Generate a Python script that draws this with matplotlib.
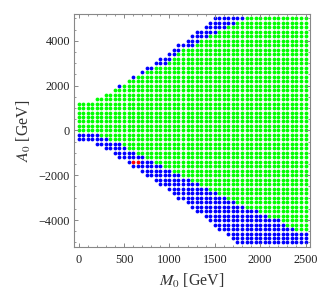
import numpy as np
import matplotlib
matplotlib.use("Agg")
import matplotlib.pyplot as plt
from matplotlib.ticker import MultipleLocator

plt.rcParams['mathtext.fontset'] = 'stix'
plt.rcParams['font.family'] = ['Liberation Serif', 'DejaVu Serif']

# scan grid: M0 columns every 50 GeV, A0 rows every 200 GeV
m0_cols = np.arange(0, 2501, 50)

# highest A0 point in each column
top_a0 = [1200, 1200, 1200, 1200, 1400, 1400, 1600, 1600, 1800, 2000,
          2000, 2200, 2400, 2400, 2600, 2800, 2800, 3000, 3200, 3200,
          3400, 3600, 3800, 3800, 4000, 4200, 4400, 4400, 4600, 4800,
          5000, 5000, 5000, 5000, 5000, 5000, 5000, 5000, 5000, 5000,
          5000, 5000, 5000, 5000, 5000, 5000, 5000, 5000, 5000, 5000, 5000]

# lowest A0 point in each column
bottom_a0 = [-400, -400, -400, -400, -600, -600, -800, -800, -1000, -1200,
             -1200, -1400, -1600, -1600, -1800, -2000, -2000, -2200, -2400, -2400,
             -2600, -2800, -3000, -3000, -3200, -3400, -3600, -3600, -3800, -4000,
             -4200, -4400, -4400, -4600, -4800, -5000, -5000, -5000, -5000, -5000,
             -5000, -5000, -5000, -5000, -5000, -5000, -5000, -5000, -5000, -5000, -5000]

# lowest green point in each column (below it: blue)
green_min = [0, 0, 0, 0, 0, -200, -200, -400, -400, -400,
             -600, -800, -800, -1000, -1000, -1200, -1200, -1400, -1400, -1600,
             -1600, -1800, -1800, -2000, -2000, -2200, -2200, -2400, -2400, -2600,
             -2600, -2800, -2800, -3000, -3000, -3200, -3200, -3400, -3400, -3400,
             -3600, -3600, -3800, -3800, -3800, -4000, -4200, -4200, -4400, -4400, -4400]

# number of blue points at the top of each column
blue_top = [0, 0, 0, 0, 0, 0, 0, 0, 0, 1,
            0, 0, 1, 0, 1, 1, 1, 1, 2, 2,
            2, 2, 2, 1, 2, 3, 3, 2, 3, 3,
            4, 3, 3, 2, 2, 1, 1, 0, 0, 0,
            0, 0, 0, 0, 0, 0, 0, 0, 0, 0, 0]

red_m0 = [600, 650]
red_a0 = [-1400, -1400]

gx, gy, bx, by = [], [], [], []
for i, m in enumerate(m0_cols):
    for a in range(bottom_a0[i], top_a0[i] + 1, 200):
        if any(m == rm and a == ra for rm, ra in zip(red_m0, red_a0)):
            continue
        if a > top_a0[i] - 200 * blue_top[i] or a < green_min[i]:
            bx.append(m); by.append(a)
        else:
            gx.append(m); gy.append(a)

fig = plt.figure(figsize=(3.32, 3.03), dpi=100)
ax = fig.add_axes([0.223, 0.185, 0.711, 0.769])

ax.scatter(gx, gy, s=7.5, c='#00ff00', linewidths=0)
ax.scatter(bx, by, s=7.5, c='#0000ff', linewidths=0)
ax.scatter(red_m0, red_a0, s=7.5, c='#ff0000', linewidths=0)

ax.set_xlim(-50, 2550)
ax.set_ylim(-5200, 5200)
ax.xaxis.set_major_locator(MultipleLocator(500))
ax.xaxis.set_minor_locator(MultipleLocator(100))
ax.yaxis.set_major_locator(MultipleLocator(2000))
ax.yaxis.set_minor_locator(MultipleLocator(500))

for s in ax.spines.values():
    s.set_color('#888888')
    s.set_linewidth(0.8)
ax.tick_params(which='both', direction='in', top=True, right=True,
               color='#888888', labelsize=8.8, labelcolor='#222222')
ax.tick_params(which='major', length=3.2, width=0.7)
ax.tick_params(which='minor', length=1.7, width=0.6)
ax.tick_params(axis='x', pad=5)
ax.tick_params(axis='y', pad=3)

ax.set_xlabel(r'$M_0$ [GeV]', fontsize=11.5, color='#333333', labelpad=4)
ax.set_ylabel(r'$A_0$ [GeV]', fontsize=11.5, color='#333333', labelpad=4)

fig.savefig('out.png', dpi=100)
